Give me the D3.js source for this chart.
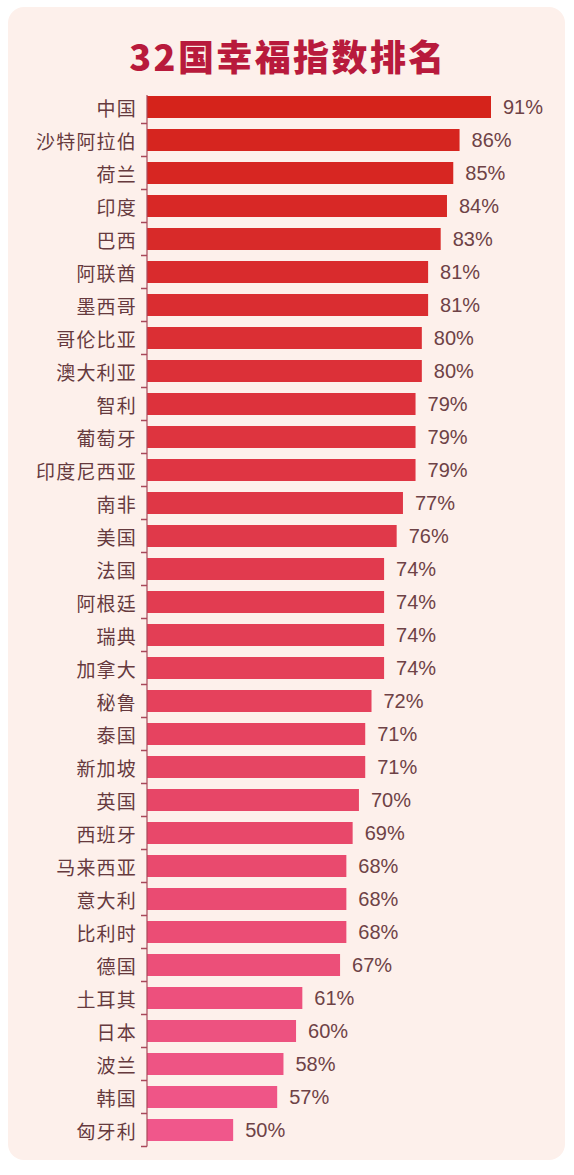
<!DOCTYPE html>
<html>
<head>
<meta charset="utf-8">
<script src="https://cdn.jsdelivr.net/npm/d3@7"></script>
<style>
  html, body { margin: 0; padding: 0; background: #ffffff; }
  svg { display: block; }
</style>
</head>
<body>
<div class="viz"></div>
<script>
// chart data
const countries = [
  '中国', '沙特阿拉伯', '荷兰', '印度', '巴西', '阿联酋', '墨西哥', '哥伦比亚',
  '澳大利亚', '智利', '葡萄牙', '印度尼西亚', '南非', '美国', '法国', '阿根廷',
  '瑞典', '加拿大', '秘鲁', '泰国', '新加坡', '英国', '西班牙', '马来西亚',
  '意大利', '比利时', '德国', '土耳其', '日本', '波兰', '韩国', '匈牙利'
];
const values = [
  91, 86, 85, 84, 83, 81, 81, 80,
  80, 79, 79, 79, 77, 76, 74, 74,
  74, 74, 72, 71, 71, 70, 69, 68,
  68, 68, 67, 61, 60, 58, 57, 50
];
const title = '32国幸福指数排名';

const width = 574,
  height = 1175;

const svg = d3
  .select('.viz')
  .append('svg')
  .attr('width', width)
  .attr('height', height);

// panel behind the chart
svg
  .append('rect')
  .attr('x', 8)
  .attr('y', 7)
  .attr('width', 557)
  .attr('height', 1153)
  .attr('rx', 16)
  .attr('fill', '#fdf0eb');

svg
  .append('text')
  .attr('x', width / 2 + 1)
  .attr('y', 55)
  .attr('text-anchor', 'middle')
  .attr('dominant-baseline', 'central')
  .attr('font-family', '"Noto Sans CJK SC", sans-serif')
  .attr('font-weight', 900)
  .attr('font-size', 36)
  .attr('letter-spacing', 2.4)
  .attr('fill', '#b81a3c')
  .text(title);

// set the ranges (the axis does not start at zero in the original)
const x = d3.scaleLinear().domain([36.3, 91]).range([147, 491]);
const y = d3
  .scaleBand()
  .domain(countries)
  .range([90.5, 1146.5])
  .paddingInner(1 / 3)
  .paddingOuter(1 / 6);

const colour = d3.interpolateRgb('#d5231b', '#f0578b');

const rows = countries.map((c, i) => ({ name: c, value: values[i], i: i }));

svg
  .append('g')
  .selectAll('rect')
  .data(rows)
  .join('rect')
  .attr('x', x.range()[0])
  .attr('y', d => y(d.name))
  .attr('width', d => x(d.value) - x.range()[0])
  .attr('height', y.bandwidth())
  .attr('fill', d => colour(d.i / (rows.length - 1)));

// axis line and ticks between the bars
const axisColour = '#a8485a';
const axis = svg.append('g');
axis
  .append('line')
  .attr('x1', x.range()[0])
  .attr('x2', x.range()[0])
  .attr('y1', y(countries[0]) - 1)
  .attr('y2', y.range()[1])
  .attr('stroke', axisColour)
  .attr('stroke-width', 1.2);
axis
  .selectAll('line.tick')
  .data(rows)
  .join('line')
  .attr('class', 'tick')
  .attr('x1', x.range()[0] - 6)
  .attr('x2', x.range()[0])
  .attr('y1', d => y(d.name) + y.bandwidth() + (y.step() - y.bandwidth()) / 2)
  .attr('y2', d => y(d.name) + y.bandwidth() + (y.step() - y.bandwidth()) / 2)
  .attr('stroke', axisColour)
  .attr('stroke-width', 1.5);

// category labels
svg
  .append('g')
  .selectAll('text')
  .data(rows)
  .join('text')
  .attr('x', x.range()[0] - 10)
  .attr('y', d => y(d.name) + y.bandwidth() / 2)
  .attr('text-anchor', 'end')
  .attr('dominant-baseline', 'central')
  .attr('font-family', '"Noto Sans CJK SC", sans-serif')
  .attr('font-size', 19)
  .attr('letter-spacing', 1.2)
  .attr('fill', '#663a3e')
  .text(d => d.name);

// value labels
svg
  .append('g')
  .selectAll('text')
  .data(rows)
  .join('text')
  .attr('x', d => x(d.value) + 12)
  .attr('y', d => y(d.name) + y.bandwidth() / 2)
  .attr('dominant-baseline', 'central')
  .attr('font-family', '"Liberation Sans", Arial, sans-serif')
  .attr('font-size', 20)
  .attr('fill', '#6e4246')
  .text(d => d.value + '%');
</script>
</body>
</html>
